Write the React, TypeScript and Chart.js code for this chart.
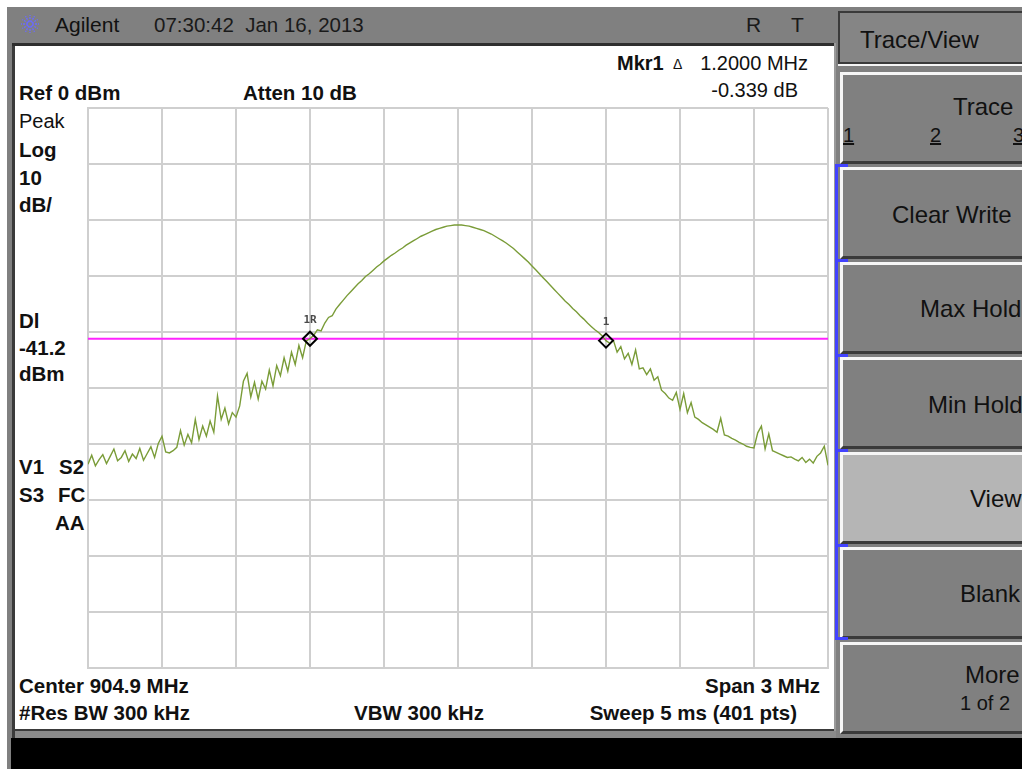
import React, { useEffect, useRef } from 'react';
import { Chart, registerables } from 'chart.js';

Chart.register(...registerables);

// ---- data ----
const sweepStartKHz = -1500; // offset from center 904.9 MHz
const sweepStopKHz = 1500;
const pointStepKHz = 15;
const freqDivKHz = 300;
const refLevelDbm = 0;
const bottomLevelDbm = -100;
const dbPerDiv = 10;
const displayLineDbm = -41.2;

const traceDbm = [
  -63.6, -62.0, -63.9, -62.8, -61.9, -63.5, -62.2, -60.9, -63.0, -62.4,
  -61.2, -63.1, -61.8, -62.6, -60.8, -62.9, -61.7, -60.5, -62.4, -59.9,
  -58.6, -61.4, -61.6, -61.2, -60.6, -57.6, -60.2, -58.3, -59.8, -55.6,
  -59.2, -56.8, -58.6, -55.9, -57.9, -51.4, -55.6, -53.6, -56.4, -54.4,
  -55.2, -53.2, -48.8, -47.4, -51.6, -49.0, -52.0, -48.8, -50.2, -46.8,
  -49.6, -46.0, -47.8, -44.6, -47.0, -43.6, -45.8, -42.4, -44.6, -41.6,
  -41.2, -40.6, -39.6, -39.8, -38.4, -37.4, -37.1, -35.9, -35.1, -34.3,
  -33.5, -32.8, -32.1, -31.4, -30.8, -30.1, -29.6, -29.0, -28.4, -27.9,
  -27.3, -26.8, -26.3, -25.9, -25.4, -25.0, -24.5, -24.1, -23.7, -23.3,
  -22.9, -22.6, -22.3, -22.0, -21.7, -21.5, -21.3, -21.1, -21.0, -20.9,
  -20.9, -20.9, -21.0, -21.1, -21.3, -21.5, -21.7, -21.9, -22.2, -22.5,
  -22.9, -23.3, -23.7, -24.1, -24.6, -25.1, -25.7, -26.3, -26.9, -27.5,
  -28.2, -28.9, -29.6, -30.3, -31.0, -31.7, -32.4, -33.1, -33.8, -34.5,
  -35.1, -35.8, -36.4, -37.1, -37.7, -38.4, -39.0, -39.6, -40.1, -40.7,
  -41.54, -42.0, -41.5, -43.6, -42.6, -44.8, -43.8, -45.8, -43.2, -46.6,
  -46.4, -47.6, -46.6, -48.6, -48.0, -50.4, -51.0, -51.8, -52.2, -50.8,
  -53.8, -51.0, -54.4, -52.6, -55.2, -55.6, -56.2, -56.6, -57.0, -57.4,
  -57.9, -55.4, -58.4, -58.6, -59.0, -59.3, -59.7, -60.0, -60.4, -60.6,
  -60.7, -58.0, -56.8, -60.9, -58.2, -61.2, -61.5, -61.8, -62.1, -62.4,
  -62.3, -62.7, -63.0, -62.4, -63.3, -62.7, -63.4, -62.2, -61.6, -60.4,
  -63.8,
];

const markerIndices = [60, 140];
const markerNames = ['1R', '1'];

const softkeys = ['Clear Write', 'Max Hold', 'Min Hold', 'View', 'Blank'];

// ---- helpers ----
const FONT = '"Liberation Sans", Arial, sans-serif';

function Txt(props: {
  x?: number;
  right?: number;
  base: number;
  size: number;
  bold?: boolean;
  color?: string;
  underline?: boolean;
  children: React.ReactNode;
}) {
  const { x, right, base, size, bold, color, underline, children } = props;
  const style: React.CSSProperties = {
    position: 'absolute',
    top: base - size * 0.8465,
    fontSize: size,
    lineHeight: size + 'px',
    fontWeight: bold ? 700 : 400,
    color: color || '#111',
    whiteSpace: 'pre',
    fontFamily: FONT,
    textDecoration: underline ? 'underline' : 'none',
  };
  if (right !== undefined) style.right = 1022 - right;
  else style.left = x;
  return <div style={style}>{children}</div>;
}

function Box(props: { x: number; y: number; w: number; h: number; bg: string; style?: React.CSSProperties }) {
  return (
    <div
      style={{
        position: 'absolute',
        left: props.x,
        top: props.y,
        width: props.w,
        height: props.h,
        background: props.bg,
        boxSizing: 'border-box',
        ...(props.style || {}),
      }}
    />
  );
}

const markerLabelPlugin = {
  id: 'markerLabels',
  afterDatasetsDraw(chart: any) {
    const meta = chart.getDatasetMeta(0);
    const ctx = chart.ctx;
    ctx.save();
    ctx.font = 'bold 11px "DejaVu Sans Mono", monospace';
    ctx.fillStyle = '#4a4a4a';
    ctx.textAlign = 'center';
    ctx.textBaseline = 'alphabetic';
    meta.data.forEach((el: any, i: number) => {
      ctx.fillText(markerNames[i], el.x, el.y - 16);
    });
    ctx.restore();
  },
};

function SpectrumChart() {
  const ref = useRef<HTMLCanvasElement | null>(null);
  useEffect(() => {
    if (!ref.current) return;
    const freqs = traceDbm.map((_, i) => sweepStartKHz + i * pointStepKHz);
    const chart = new Chart(ref.current, {
      type: 'line',
      data: {
        datasets: [
          {
            label: 'markers',
            data: markerIndices.map((i) => ({ x: freqs[i], y: traceDbm[i] })),
            showLine: false,
            pointStyle: 'rectRot',
            pointRadius: 7,
            pointHoverRadius: 7,
            pointBorderWidth: 2,
            pointBorderColor: '#000',
            pointBackgroundColor: 'rgba(0,0,0,0)',
            order: 0,
          },
          {
            label: 'trace',
            data: traceDbm.map((v, i) => ({ x: freqs[i], y: v })),
            borderColor: '#7a9c38',
            borderWidth: 1.4,
            pointRadius: 0,
            tension: 0,
            order: 1,
          },
          {
            label: 'display line',
            data: [
              { x: sweepStartKHz, y: displayLineDbm },
              { x: sweepStopKHz, y: displayLineDbm },
            ],
            borderColor: '#ff22ff',
            borderWidth: 2,
            pointRadius: 0,
            order: 2,
          },
        ],
      } as any,
      options: {
        animation: false,
        responsive: false,
        maintainAspectRatio: false,
        events: [],
        layout: { padding: 10 },
        plugins: { legend: { display: false }, tooltip: { enabled: false } },
        scales: {
          x: {
            type: 'linear',
            min: sweepStartKHz,
            max: sweepStopKHz,
            ticks: { display: false, stepSize: freqDivKHz },
            grid: { color: '#cfcfcf', lineWidth: 2, drawTicks: false },
            border: { display: true, color: '#cfcfcf', width: 2 },
          },
          y: {
            type: 'linear',
            min: bottomLevelDbm,
            max: refLevelDbm,
            ticks: { display: false, stepSize: dbPerDiv },
            grid: { color: '#cfcfcf', lineWidth: 2, drawTicks: false },
            border: { display: true, color: '#cfcfcf', width: 2 },
          },
        },
      } as any,
      plugins: [markerLabelPlugin],
    });
    return () => chart.destroy();
  }, []);
  return (
    <canvas
      ref={ref}
      width={760}
      height={580}
      style={{ position: 'absolute', left: 78, top: 98, width: 760, height: 580 }}
    />
  );
}

function Logo() {
  const spokes = [];
  for (let k = 0; k < 12; k++) {
    const a = (k * Math.PI) / 6;
    spokes.push(
      <line
        key={k}
        x1={10 + Math.cos(a) * 2}
        y1={10 + Math.sin(a) * 2}
        x2={10 + Math.cos(a) * 9}
        y2={10 + Math.sin(a) * 9}
        stroke="#6a6aff"
        strokeWidth={1.4}
        strokeDasharray="2 1"
      />
    );
  }
  return (
    <svg width={20} height={20} style={{ position: 'absolute', left: 20, top: 14 }}>
      {spokes}
    </svg>
  );
}

export default function App() {
  const btnTops = [72, 167, 262, 357, 452, 547, 642];
  return (
    <div
      style={{
        position: 'fixed',
        left: 0,
        top: 0,
        width: 1022,
        height: 769,
        background: '#fff',
        overflow: 'hidden',
        fontFamily: FONT,
      }}
    >
      {/* frame */}
      <Box x={7} y={7} w={829} h={36} bg="#808080" />
      <Box x={7} y={43} w={5} h={726} bg="#808080" />
      <Box x={12} y={43} w={824} h={3} bg="#2e2e2e" />
      <Box x={12} y={46} w={3} h={692} bg="#3a3a3a" />
      <Box x={834} y={43} w={2} h={695} bg="#9a9a9a" />
      <Box x={15} y={729} w={819} h={2} bg="#3a3a3a" />
      <Box x={15} y={731} w={821} h={7} bg="#8a8a8a" />
      <Box x={11} y={738} w={1011} h={31} bg="#000" />

      {/* right softkey panel */}
      <Box x={836} y={7} w={186} h={731} bg="#808080" />
      <Box
        x={838}
        y={11}
        w={200}
        h={53}
        bg="#858585"
        style={{ borderTop: '2px solid #3a3a3a', borderLeft: '2px solid #3a3a3a', borderBottom: '2px solid #3a3a3a', boxShadow: '0 2px 0 #f4f4f4' }}
      />
      {btnTops.map((t, i) => (
        <Box
          key={i}
          x={840}
          y={t}
          w={200}
          h={92}
          bg={i === 4 ? '#b5b5b5' : '#808080'}
          style={{ borderTop: '3px solid #f6f6f6', borderLeft: '3px solid #f6f6f6', borderBottom: '3px solid #3a3a3a' }}
        />
      ))}
      <Box x={835} y={164} w={3} h={476} bg="#4242ff" />
      {[164, 259, 354, 449, 544, 637].map((y, i) => (
        <Box key={'b' + i} x={835} y={y} w={13} h={3} bg="#4242ff" />
      ))}

      {/* top bar text */}
      <Logo />
      <Txt x={55} base={32} size={21}>Agilent</Txt>
      <Txt x={154} base={32} size={20.5} color="#1a1a1a">{'07:30:42  Jan 16, 2013'}</Txt>
      <Txt x={746} base={32} size={21} color="#1a1a1a">R</Txt>
      <Txt x={791} base={32} size={21} color="#1a1a1a">T</Txt>

      {/* panel annotations */}
      <Txt x={19} base={100} size={20.5} bold>Ref 0 dBm</Txt>
      <Txt x={243} base={100} size={20.5} bold>Atten 10 dB</Txt>
      <Txt x={617} base={70} size={20} bold>Mkr1</Txt>
      <Txt x={673} base={69} size={14}>Δ</Txt>
      <Txt right={808} base={70} size={20}>1.2000 MHz</Txt>
      <Txt right={798} base={97} size={20}>-0.339 dB</Txt>

      <Txt x={19} base={128} size={20}>Peak</Txt>
      <Txt x={19} base={157} size={20.5} bold>Log</Txt>
      <Txt x={19} base={185} size={20.5} bold>10</Txt>
      <Txt x={19} base={212} size={20.5} bold>dB/</Txt>
      <Txt x={19} base={328} size={20.5} bold>Dl</Txt>
      <Txt x={19} base={355} size={20.5} bold>-41.2</Txt>
      <Txt x={19} base={381} size={20.5} bold>dBm</Txt>
      <Txt x={19} base={474} size={20.5} bold>V1</Txt>
      <Txt x={59} base={474} size={20.5} bold>S2</Txt>
      <Txt x={19} base={502} size={20.5} bold>S3</Txt>
      <Txt x={58} base={502} size={20.5} bold>FC</Txt>
      <Txt x={55} base={530} size={20.5} bold>AA</Txt>

      <Txt x={19} base={693} size={20.5} bold>Center 904.9 MHz</Txt>
      <Txt x={19} base={720} size={20.5} bold>#Res BW 300 kHz</Txt>
      <Txt x={354} base={720} size={20.5} bold>VBW 300 kHz</Txt>
      <Txt right={820} base={693} size={20.5} bold>Span 3 MHz</Txt>
      <Txt right={797} base={720} size={20.5} bold>Sweep 5 ms (401 pts)</Txt>

      {/* softkey labels */}
      <Txt x={860} base={48} size={24}>Trace/View</Txt>
      <Txt x={953} base={115} size={24}>Trace</Txt>
      <Txt x={843} base={142} size={20} underline>1</Txt>
      <Txt x={930} base={142} size={20} underline>2</Txt>
      <Txt x={1013} base={142} size={20} underline>3</Txt>
      <Txt x={892} base={223} size={24}>{softkeys[0]}</Txt>
      <Txt x={920} base={317} size={24}>{softkeys[1]}</Txt>
      <Txt x={928} base={413} size={24}>{softkeys[2]}</Txt>
      <Txt x={970} base={507} size={24}>{softkeys[3]}</Txt>
      <Txt x={960} base={602} size={24}>{softkeys[4]}</Txt>
      <Txt x={965} base={683} size={24}>More</Txt>
      <Txt x={960} base={710} size={20}>1 of 2</Txt>

      <SpectrumChart />
    </div>
  );
}
